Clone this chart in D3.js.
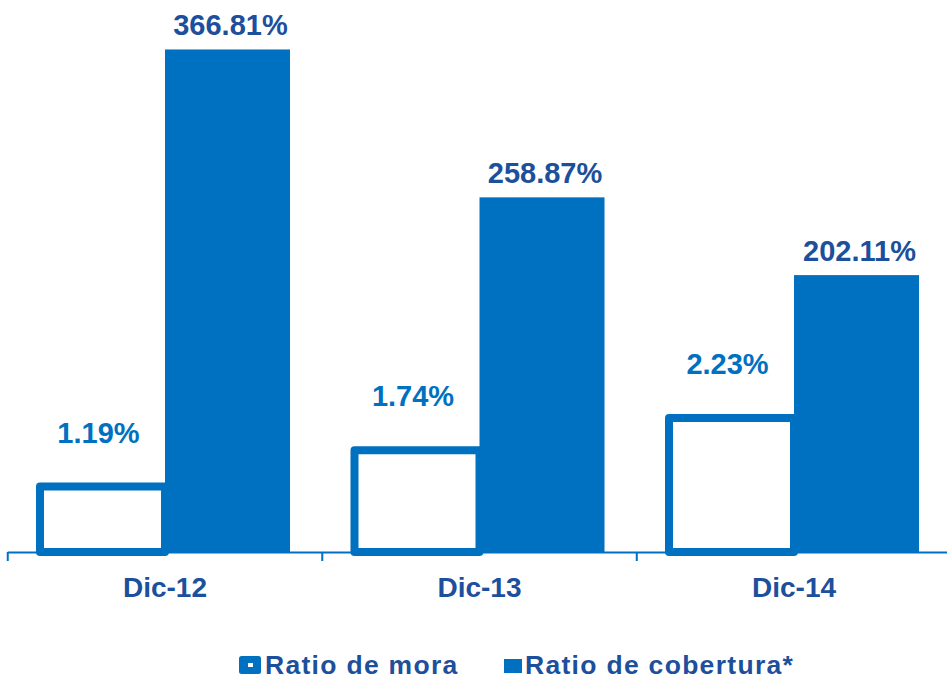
<!DOCTYPE html>
<html>
<head>
<meta charset="utf-8">
<script src="https://cdn.jsdelivr.net/npm/d3@7/dist/d3.min.js"></script>
<style>
  html, body { margin: 0; padding: 0; background: #ffffff; }
  svg { display: block; font-family: "Liberation Sans", Arial, sans-serif; }
</style>
</head>
<body>
<svg id="chart" width="947" height="680"></svg>
<script>
// Ratios by period
const categories = ["Dic-12", "Dic-13", "Dic-14"];
const moraValues = [1.19, 1.74, 2.23];           // Ratio de mora (%)
const coberturaValues = [366.81, 258.87, 202.11]; // Ratio de cobertura (%)
const seriesNames = ["Ratio de mora", "Ratio de cobertura*"];

const blue = "#0070C0";
const darkBlue = "#1C4F9C";
const fmt = v => d3.format(".2f")(v) + "%";

const svg = d3.select("#chart");

// Category bands and the two bars inside each band
const x = d3.scaleBand()
  .domain(categories)
  .range([7.75, 7.75 + 3 * 314.5])
  .paddingInner(0.2051)
  .paddingOuter(0.1025);
const sub = d3.scaleBand()
  .domain(["mora", "cobertura"])
  .range([0, x.bandwidth()]);

// Each series on its own value axis (axes hidden)
const baseY = 552;
const yMora = d3.scaleLinear().domain([0.2, 7.8]).range([baseY, 50]);
const yCob = d3.scaleLinear().domain([0, 400]).range([baseY, 4]);

// Baseline with category separators
const start = x.range()[0];
const step = x.step();
svg.append("line")
  .attr("x1", start).attr("x2", 947)
  .attr("y1", baseY + 0.5).attr("y2", baseY + 0.5)
  .attr("stroke", blue).attr("stroke-width", 2);
svg.append("g").selectAll("line")
  .data(d3.range(categories.length + 1))
  .join("line")
  .attr("x1", i => start + i * step).attr("x2", i => start + i * step)
  .attr("y1", baseY).attr("y2", baseY + 9)
  .attr("stroke", blue).attr("stroke-width", 2);

// Ratio de mora: hollow bars
svg.append("g").selectAll("rect")
  .data(moraValues)
  .join("rect")
  .attr("x", (d, i) => x(categories[i]) + sub("mora"))
  .attr("y", d => yMora(d))
  .attr("width", sub.bandwidth())
  .attr("height", d => baseY - yMora(d))
  .attr("fill", "#ffffff")
  .attr("stroke", blue)
  .attr("stroke-width", 8)
  .attr("stroke-linejoin", "round");

// Ratio de cobertura: solid bars
svg.append("g").selectAll("rect")
  .data(coberturaValues)
  .join("rect")
  .attr("x", (d, i) => x(categories[i]) + sub("cobertura"))
  .attr("y", d => yCob(d))
  .attr("width", sub.bandwidth())
  .attr("height", d => baseY - yCob(d))
  .attr("fill", blue);

// Value labels
svg.append("g").selectAll("text")
  .data(moraValues)
  .join("text")
  .attr("x", (d, i) => x(categories[i]) + sub("mora") + sub.bandwidth() / 2 - 4)
  .attr("y", d => yMora(d) - 44)
  .attr("text-anchor", "middle")
  .attr("font-size", 29).attr("font-weight", "bold")
  .attr("fill", blue)
  .text(fmt);

svg.append("g").selectAll("text")
  .data(coberturaValues)
  .join("text")
  .attr("x", (d, i) => x(categories[i]) + sub("cobertura") + sub.bandwidth() / 2 + 3)
  .attr("y", d => yCob(d) - 14)
  .attr("text-anchor", "middle")
  .attr("font-size", 29).attr("font-weight", "bold")
  .attr("fill", darkBlue)
  .text(fmt);

// Category labels
svg.append("g").selectAll("text")
  .data(categories)
  .join("text")
  .attr("x", d => x(d) + x.bandwidth() / 2)
  .attr("y", 597)
  .attr("text-anchor", "middle")
  .attr("font-size", 28).attr("font-weight", "bold")
  .attr("fill", darkBlue)
  .text(d => d);

// Legend
const legend = svg.append("g");
legend.append("rect")
  .attr("x", 239).attr("y", 656).attr("width", 22).attr("height", 18)
  .attr("rx", 2.5)
  .attr("fill", blue);
legend.append("rect")
  .attr("x", 248).attr("y", 663).attr("width", 5).attr("height", 4)
  .attr("fill", "#ffffff");
legend.append("rect")
  .attr("x", 504).attr("y", 659).attr("width", 18).attr("height", 14)
  .attr("fill", blue);
legend.selectAll("text.item")
  .data(seriesNames)
  .join("text")
  .attr("class", "item")
  .attr("x", (d, i) => i === 0 ? 265 : 525)
  .attr("y", 674)
  .attr("font-size", 26.5).attr("font-weight", "bold")
  .attr("letter-spacing", 1.3)
  .attr("fill", darkBlue)
  .text(d => d);
</script>
</body>
</html>
